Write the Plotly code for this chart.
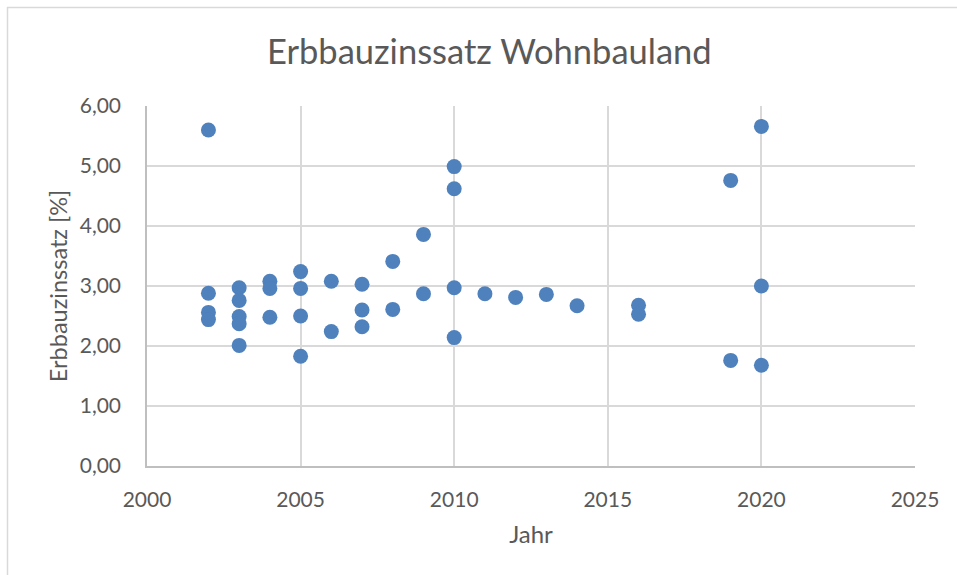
import plotly.graph_objects as go

# Erbbauzinssatz-Beobachtungen je Jahr
jahr = [
    2002, 2002, 2002, 2002,
    2003, 2003, 2003, 2003, 2003,
    2004, 2004, 2004,
    2005, 2005, 2005, 2005,
    2006, 2006,
    2007, 2007, 2007,
    2008, 2008,
    2009, 2009,
    2010, 2010, 2010, 2010,
    2011, 2012, 2013, 2014,
    2016, 2016,
    2019, 2019,
    2020, 2020, 2020,
]
zinssatz = [
    5.60, 2.88, 2.56, 2.44,
    2.97, 2.76, 2.49, 2.37, 2.01,
    3.08, 2.96, 2.48,
    3.24, 2.96, 2.50, 1.83,
    3.08, 2.24,
    3.03, 2.60, 2.32,
    3.41, 2.61,
    3.86, 2.87,
    4.99, 4.62, 2.97, 2.14,
    2.87, 2.81, 2.86, 2.67,
    2.68, 2.53,
    4.76, 1.76,
    5.66, 3.00, 1.68,
]

x_ticks = [2000, 2005, 2010, 2015, 2020, 2025]
y_ticks = [0, 1, 2, 3, 4, 5, 6]
y_labels = [f"{v:.2f}".replace(".", ",") for v in y_ticks]

FONT = "Lato"
GREY_TEXT = "#595959"
GRID = "#D9D9D9"

W, H = 957, 575
L, R, T, B = 147, 42, 106, 109
pw, ph = W - L - R, H - T - B

fig = go.Figure(
    go.Scatter(
        x=jahr,
        y=zinssatz,
        mode="markers",
        marker=dict(size=15, color="#4F81BD", line=dict(width=0)),
        hoverinfo="x+y",
    )
)

fig.update_layout(
    width=W,
    height=H,
    margin=dict(l=L, r=R, t=T, b=B),
    paper_bgcolor="white",
    plot_bgcolor="white",
    showlegend=False,
    font=dict(family=FONT, color=GREY_TEXT),
    annotations=[
        dict(
            text="Erbbauzinssatz Wohnbauland",
            xref="paper", yref="paper",
            x=(489 - L) / pw, y=(H - B - 50) / ph,
            xanchor="center", yanchor="middle",
            showarrow=False,
            font=dict(size=34.5, family=FONT, color=GREY_TEXT),
        )
    ],
    shapes=[
        # chart frame
        dict(
            type="rect", xref="paper", yref="paper",
            x0=(7.5 - L) / pw, x1=(W + 5 - L) / pw,
            y0=(H - B - (H + 5)) / ph, y1=(H - B - 7.5) / ph,
            line=dict(color=GRID, width=1.5),
            fillcolor="rgba(0,0,0,0)",
            layer="below",
        )
    ],
)

fig.update_xaxes(
    range=[2000, 2025],
    tickvals=x_ticks,
    ticktext=[str(v) for v in x_ticks],
    showgrid=True, gridcolor=GRID, gridwidth=1.5,
    showline=True, linecolor="#BFBFBF", linewidth=1.5,
    zeroline=False,
    ticks="", ticklabelstandoff=14,
    tickfont=dict(size=21, family=FONT, color=GREY_TEXT),
    title=dict(text="Jahr", font=dict(size=24, family=FONT, color=GREY_TEXT), standoff=16),
)
fig.update_yaxes(
    range=[0, 6],
    tickvals=y_ticks,
    ticktext=y_labels,
    showgrid=True, gridcolor=GRID, gridwidth=1.5,
    showline=True, linecolor="#BFBFBF", linewidth=1.5,
    zeroline=False,
    ticks="", ticklabelstandoff=20,
    tickfont=dict(size=21, family=FONT, color=GREY_TEXT),
    title=dict(text="Erbbauzinssatz [%]", font=dict(size=23.5, family=FONT, color=GREY_TEXT), standoff=6),
)

fig.write_html("out.html")
